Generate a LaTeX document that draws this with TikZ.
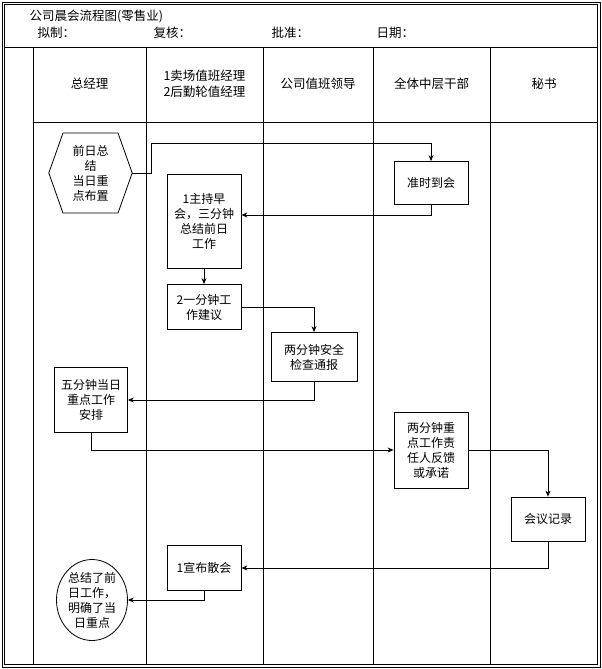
\documentclass[tikz,border=0pt]{standalone}
\usepackage{fontspec}
\setmainfont{Noto Sans CJK SC}
\usetikzlibrary{arrows.meta,shapes.geometric}
\tikzset{
  stepbox/.style={draw,thick,fill=white,align=center,font=\fontsize{12}{15}\selectfont,inner sep=1pt},
  flow/.style={draw,thick,-{Stealth[length=6pt,width=5pt]}},
  lane/.style={font=\fontsize{12.5}{16}\selectfont,align=center}
}
\begin{document}
\begin{tikzpicture}[x=1pt,y=-1pt]
\useasboundingbox (0,0) rectangle (602,669);
% frame and lanes
\draw[thick] (2,2) rectangle (600,667);
\draw[thick] (4,4) rectangle (597,664);
\draw[thick] (4,47) -- (597,47);
\draw[thick] (33,122) -- (597,122);
\foreach \x in {33,146,263,373,490} \draw[thick] (\x,47) -- (\x,664);
\node[anchor=west,font=\fontsize{12.5}{15}\selectfont] (title) at (26,16) {公司晨会流程图(零售业)};
\node[anchor=west,font=\fontsize{12.5}{15}\selectfont] (drawn) at (34,33) {拟制：};
\node[anchor=west,font=\fontsize{12.5}{15}\selectfont] (check) at (150,33) {复核：};
\node[anchor=west,font=\fontsize{12.5}{15}\selectfont] (appr) at (268,33) {批准：};
\node[anchor=west,font=\fontsize{12.5}{15}\selectfont] (date) at (373,33) {日期：};
\node[lane] (l1) at (89.5,84) {总经理};
\node[lane] (l2) at (204.5,84) {1卖场值班经理\\2后勤轮值经理};
\node[lane] (l3) at (318,84) {公司值班领导};
\node[lane] (l4) at (431.5,84) {全体中层干部};
\node[lane] (l5) at (544,84) {秘书};
% steps
\node[align=center,font=\fontsize{12}{15}\selectfont,minimum width=83pt,minimum height=80pt,inner sep=0pt] (start) at (90.5,173) {前日总\\结\\当日重\\点布置};
\draw[thick] (start.west) -- (63,133) -- (118,133) -- (start.east) -- (118,213) -- (63,213) -- cycle;
\node[stepbox,minimum width=74pt,minimum height=43pt] (arrive) at (431,183) {准时到会};
\node[stepbox,minimum width=74pt,minimum height=94pt] (host) at (204,221) {1主持早\\会，三分钟\\总结前日\\工作};
\node[stepbox,minimum width=74pt,minimum height=45pt] (advice) at (204,307) {2一分钟工\\作建议};
\node[stepbox,minimum width=86pt,minimum height=49pt] (safety) at (314,357) {两分钟安全\\检查通报};
\node[stepbox,minimum width=73pt,minimum height=65pt] (plan) at (91,400) {五分钟当日\\重点工作\\安排};
\node[stepbox,minimum width=74pt,minimum height=76pt] (reply) at (431,450) {两分钟重\\点工作责\\任人反馈\\或承诺};
\node[stepbox,minimum width=74pt,minimum height=44pt] (record) at (548,519) {会议记录};
\node[stepbox,minimum width=74pt,minimum height=45pt] (close) at (204,568) {1宣布散会};
\node[stepbox,ellipse,minimum width=71pt,minimum height=81pt,inner sep=0pt] (end) at (92,600) {总结了前\\日工作，\\明确了当\\日重点};
% connectors
\draw[flow] (start.east) -- (151,173) -- (151,143) -| (arrive.north);
\draw[flow] (arrive.south) |- (host.east |- 0,215);
\draw[flow] (host) -- (advice);
\draw[flow] (advice.east) -| (safety.north);
\draw[flow] (safety.south) |- (plan.east |- 0,400);
\draw[flow] (plan.south) |- (reply.west);
\draw[flow] (reply.east) -| (record.north);
\draw[flow] (record.south) |- (close.east);
\draw[flow] (close.south) |- (end.east);
\end{tikzpicture}
\end{document}
